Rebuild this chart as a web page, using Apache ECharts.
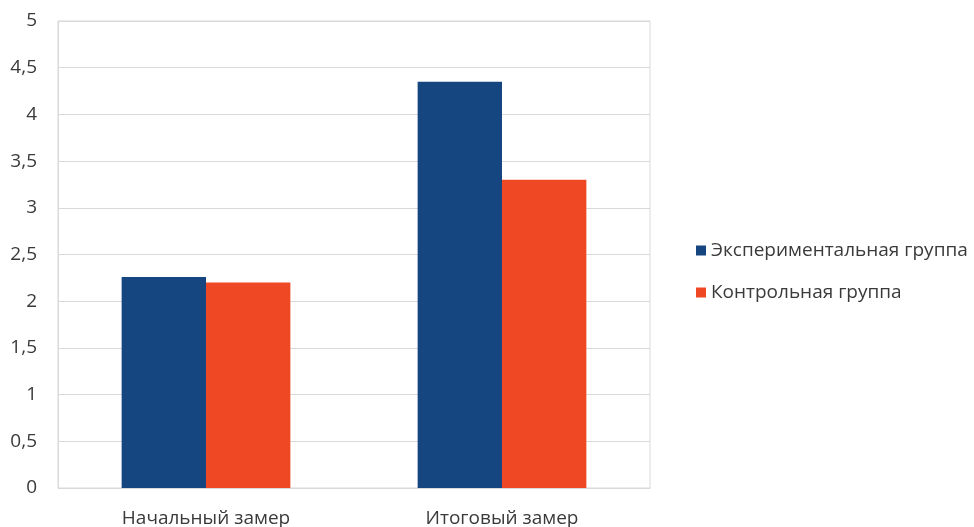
<!DOCTYPE html>
<html>
<head>
<meta charset="utf-8">
<script src="https://cdn.jsdelivr.net/npm/echarts@6/dist/echarts.min.js"></script>
<style>html,body{margin:0;padding:0;background:#fff}#c{width:974px;height:527px}</style>
</head>
<body>
<div id="c"></div>
<script>
const categories = ['Начальный замер', 'Итоговый замер'];
const seriesNames = ['Экспериментальная группа', 'Контрольная группа'];
const experimental = [2.26, 4.35];
const control = [2.2, 3.3];
const colors = ['#15467f', '#ee4824'];

const chart = echarts.init(document.getElementById('c'));
const font = '"Open Sans", "Noto Sans", sans-serif';
chart.setOption({
  animation: false,
  textStyle: { fontFamily: font },
  grid: { left: 58, right: 324, top: 21, bottom: 39, outerBoundsMode: 'none', containLabel: false, show: true, borderColor: '#d9d9d9', borderWidth: 1 },
  legend: {
    orient: 'vertical', left: 691, top: 236,
    itemWidth: 10, itemHeight: 10, itemGap: 23,
    icon: 'rect',
    textStyle: { fontSize: 19, color: '#3a3a3a', fontFamily: font },
    data: seriesNames
  },
  xAxis: {
    type: 'category', data: categories,
    axisLine: { lineStyle: { color: '#d9d9d9' } },
    axisTick: { show: false },
    axisLabel: { fontSize: 19, color: '#3a3a3a', margin: 21, fontFamily: font }
  },
  yAxis: {
    type: 'value', min: 0, max: 5, interval: 0.5,
    axisLine: { show: true, lineStyle: { color: '#d9d9d9' } },
    splitLine: { lineStyle: { color: '#d9d9d9' } },
    axisLabel: { fontSize: 19, color: '#3a3a3a', margin: 21, fontFamily: font,
      formatter: v => String(v).replace('.', ',') }
  },
  series: [
    { name: seriesNames[0], type: 'bar', data: experimental, barGap: '0%', barCategoryGap: '43%', itemStyle: { color: colors[0] } },
    { name: seriesNames[1], type: 'bar', data: control, barGap: '0%', barCategoryGap: '43%', itemStyle: { color: colors[1] } }
  ]
});
</script>
</body>
</html>
